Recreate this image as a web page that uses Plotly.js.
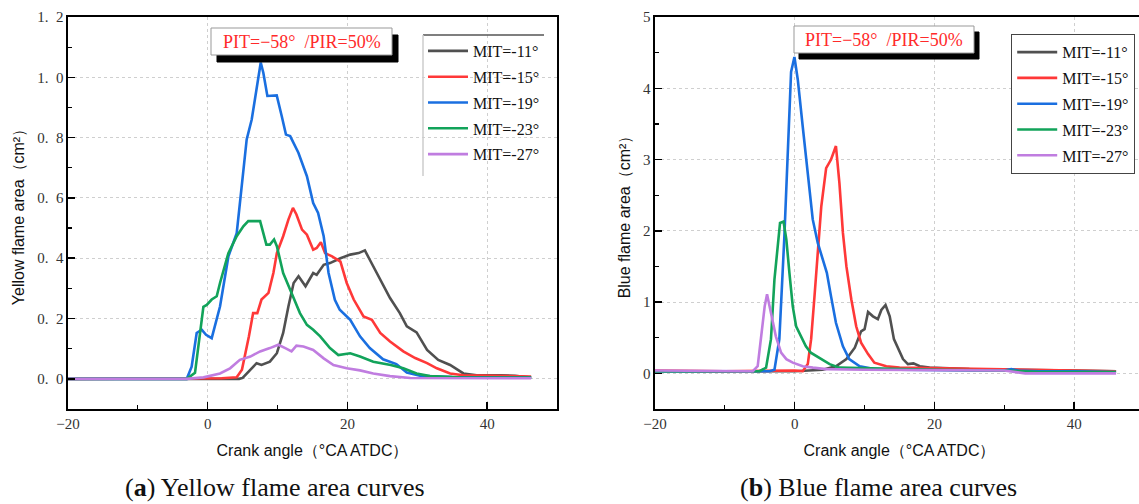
<!DOCTYPE html>
<html>
<head>
<meta charset="utf-8">
<script src="https://cdn.plot.ly/plotly-3.0.1.min.js"></script>
<style>
html,body{margin:0;padding:0;background:#fff;overflow:hidden;}
#chart{width:1145px;height:504px;}
</style>
</head>
<body>
<div id="chart"></div>
<script>
// ---------- data ----------
const seriesNames = ["MIT=-11°", "MIT=-15°", "MIT=-19°", "MIT=-23°", "MIT=-27°"];
const seriesColors = ["#505050", "#ff3838", "#1a6fe0", "#12a35a", "#c07de0"];

// (a) Yellow flame area (cm²) vs crank angle
const yelX_m11 = [-20, 4.5, 5.0, 6.1, 7.0, 7.7, 8.9, 9.9, 10.8, 11.55, 12.3, 13.0, 14.0, 15.1, 15.6, 16.6, 17.5, 19.0, 20.4, 21.6, 22.5, 23.2, 24.7, 26.1, 27.5, 28.5, 29.9, 31.4, 33.0, 34.7, 36.6, 38.5, 42, 44, 46.3];
const yelY_m11 = [0, 0, 0.003, 0.03, 0.052, 0.046, 0.057, 0.085, 0.152, 0.24, 0.318, 0.34, 0.307, 0.351, 0.345, 0.378, 0.384, 0.4, 0.412, 0.417, 0.426, 0.395, 0.329, 0.268, 0.218, 0.174, 0.154, 0.096, 0.063, 0.046, 0.018, 0.012, 0.012, 0.01, 0.004];
const yelX_m15 = [-20, -1, 2, 4.15, 4.9, 5.9, 6.5, 7.1, 7.7, 8.7, 9.4, 9.9, 10.8, 11.55, 12.2, 12.7, 13.5, 14.2, 15.1, 15.6, 16.2, 16.8, 17.8, 19.0, 19.9, 20.9, 22.3, 23.5, 24.7, 26.1, 28, 29.7, 31.4, 32.8, 34.7, 36.6, 40, 46.3];
const yelY_m15 = [0, 0, 0.002, 0.005, 0.03, 0.141, 0.218, 0.218, 0.263, 0.285, 0.351, 0.417, 0.473, 0.528, 0.567, 0.545, 0.495, 0.478, 0.428, 0.434, 0.453, 0.417, 0.406, 0.389, 0.318, 0.263, 0.207, 0.196, 0.152, 0.124, 0.091, 0.069, 0.052, 0.035, 0.018, 0.012, 0.01, 0.008];
const yelX_m19 = [-20, -3.0, -2.3, -1.58, -0.86, -0.24, 0.57, 1.76, 2.96, 4.15, 5.58, 6.3, 7.59, 7.96, 8.54, 9.16, 9.88, 10.6, 11.2, 11.8, 12.98, 14.2, 15.1, 15.8, 16.6, 17.3, 18.2, 18.9, 20.4, 21.8, 23.2, 25.1, 27, 28.5, 30.4, 35, 46.3];
const yelY_m19 = [0, 0, 0.04, 0.152, 0.163, 0.146, 0.135, 0.24, 0.406, 0.483, 0.794, 0.86, 1.049, 1.015, 0.938, 0.94, 0.94, 0.871, 0.81, 0.805, 0.75, 0.672, 0.583, 0.55, 0.473, 0.351, 0.262, 0.229, 0.196, 0.141, 0.102, 0.065, 0.049, 0.021, 0.01, 0.006, 0.004];
const yelX_m23 = [-20, -3.0, -1.82, -0.62, -0.14, 0.57, 1.29, 1.76, 2.96, 4.15, 5.1, 5.8, 7.5, 8.4, 8.9, 9.5, 9.9, 10.8, 12.0, 13.2, 14.2, 15.1, 16.1, 17.5, 18.7, 20.4, 21.8, 23.7, 26.2, 28, 29.9, 31.8, 36, 46.3];
const yelY_m23 = [0, 0, 0.02, 0.239, 0.245, 0.263, 0.274, 0.318, 0.417, 0.473, 0.506, 0.523, 0.523, 0.445, 0.445, 0.462, 0.44, 0.351, 0.285, 0.218, 0.179, 0.163, 0.141, 0.102, 0.079, 0.085, 0.074, 0.057, 0.046, 0.035, 0.018, 0.009, 0.005, 0.004];
const yelX_m27 = [-20, -3, -0.6, 1.76, 3.2, 4.6, 6.1, 7.5, 8.9, 10.1, 11.1, 12.0, 12.7, 13.7, 15.1, 16.6, 18.0, 19.9, 21.8, 23.7, 26.1, 29, 46.3];
const yelY_m27 = [0, 0, 0.005, 0.018, 0.035, 0.063, 0.074, 0.091, 0.102, 0.113, 0.102, 0.091, 0.11, 0.107, 0.096, 0.068, 0.046, 0.035, 0.028, 0.018, 0.009, 0.003, 0.002];

// (b) Blue flame area (cm²) vs crank angle
const bluX_m11 = [-20, -10, 0, 4.0, 5.9, 7.4, 8.6, 9.5, 10.0, 10.5, 11.2, 11.9, 12.4, 13.0, 13.6, 14.2, 14.8, 15.5, 16.2, 17.0, 17.9, 19.3, 25, 30, 35, 40, 46];
const bluY_m11 = [0.03, 0.03, 0.03, 0.05, 0.1, 0.2, 0.36, 0.59, 0.62, 0.86, 0.8, 0.76, 0.89, 0.96, 0.8, 0.48, 0.34, 0.2, 0.13, 0.14, 0.1, 0.08, 0.06, 0.05, 0.04, 0.04, 0.03];
const bluX_m15 = [-20, -10, 0, 1.15, 1.87, 2.35, 2.8, 3.3, 3.8, 4.5, 5.2, 5.9, 6.4, 6.9, 7.4, 8.1, 8.8, 9.5, 10.5, 11.4, 12.1, 13.1, 15, 20, 25, 30, 35, 40, 46];
const bluY_m15 = [0.04, 0.03, 0.04, 0.03, 0.13, 0.48, 1.04, 1.64, 2.34, 2.88, 3.0, 3.19, 2.67, 1.97, 1.5, 1.04, 0.66, 0.43, 0.27, 0.15, 0.13, 0.1, 0.08, 0.07, 0.06, 0.05, 0.05, 0.04, 0.03];
const bluX_m19 = [-20, -10, -3.6, -2.9, -2.2, -1.5, -0.86, -0.52, -0.04, 0.44, 1.15, 1.87, 2.58, 3.3, 4.0, 4.6, 5.2, 5.9, 6.9, 7.8, 9.3, 11.2, 15, 20, 25, 30, 31, 32, 35, 40, 46];
const bluY_m19 = [0.03, 0.03, 0.03, 0.05, 0.48, 1.88, 3.28, 4.23, 4.44, 4.12, 3.46, 2.81, 2.16, 1.83, 1.6, 1.41, 1.08, 0.71, 0.38, 0.2, 0.1, 0.065, 0.05, 0.04, 0.04, 0.04, 0.06, 0.04, 0.03, 0.03, 0.02];
const bluX_m23 = [-20, -10, -5.05, -4.1, -3.4, -2.9, -2.4, -2.1, -1.6, -1.2, -0.76, -0.28, 0.2, 0.9, 1.6, 2.3, 3.5, 5.0, 6.4, 10, 15, 20, 30, 35, 40, 46];
const bluY_m23 = [0.03, 0.03, 0.03, 0.08, 0.48, 1.32, 1.88, 2.11, 2.13, 1.88, 1.41, 0.94, 0.66, 0.52, 0.38, 0.29, 0.22, 0.13, 0.08, 0.07, 0.06, 0.05, 0.04, 0.02, 0.02, 0.02];
const bluX_m27 = [-20, -10, -6.0, -5.3, -4.8, -4.3, -3.96, -3.4, -2.7, -1.95, -1.2, -0.28, 1.15, 2.6, 4.5, 10, 20, 30, 33, 40, 46];
const bluY_m27 = [0.04, 0.03, 0.03, 0.1, 0.48, 0.94, 1.11, 0.85, 0.52, 0.29, 0.2, 0.15, 0.1, 0.08, 0.06, 0.05, 0.05, 0.04, 0.0, 0.0, 0.0];

// tick labels
const xTickVals = [-20, 0, 20, 40];
const xTickText = ["\u221220", "0", "20", "40"];
const yelTickVals = [0, 0.2, 0.4, 0.6, 0.8, 1.0, 1.2];
const yelTickText = ["0.\u20020", "0.\u20022", "0.\u20024", "0.\u20026", "0.\u20028", "1.\u20020", "1.\u20022"];
const bluTickVals = [0, 1, 2, 3, 4, 5];
const bluTickText = ["0", "1", "2", "3", "4", "5"];

const annotText = "PIT=\u221258°\u00a0\u00a0/PIR=50%";
const captionA = "(<b>a</b>) Yellow flame area curves";
const captionB = "(<b>b</b>) Blue flame area curves";
const xTitle = "Crank angle（°CA ATDC）";
const yTitleA = "Yellow flame area（cm²）";
const yTitleB = "Blue flame area（cm²）";

// ---------- build ----------
const yelX = [yelX_m11, yelX_m15, yelX_m19, yelX_m23, yelX_m27];
const yelY = [yelY_m11, yelY_m15, yelY_m19, yelY_m23, yelY_m27];
const bluX = [bluX_m11, bluX_m15, bluX_m19, bluX_m23, bluX_m27];
const bluY = [bluY_m11, bluY_m15, bluY_m19, bluY_m23, bluY_m27];

const traces = [];
for (let i = 0; i < 5; i++) {
  traces.push({x: yelX[i], y: yelY[i], type: 'scatter', mode: 'lines', name: seriesNames[i],
    line: {color: seriesColors[i], width: 2.6}, xaxis: 'x', yaxis: 'y',
    legend: 'legend', legendgroup: 'a' + i});
}
for (let i = 0; i < 5; i++) {
  traces.push({x: bluX[i], y: bluY[i], type: 'scatter', mode: 'lines', name: seriesNames[i],
    line: {color: seriesColors[i], width: 2.6}, xaxis: 'x2', yaxis: 'y2',
    legend: 'legend2', legendgroup: 'b' + i});
}

const W = 1145, H = 504, T = 17, B = 95;
const PH = H - T - B;
const px = v => v / W;
const py = v => (H - B - v) / PH;

const tickFont = {family: 'Liberation Serif, Times New Roman, serif', size: 15, color: '#333'};
const titleFont = {family: 'Liberation Sans, Arial, sans-serif', size: 16, color: '#111'};

function xAxis(domain, anchor) {
  return {domain: domain, anchor: anchor, range: [-20, 50], tickvals: xTickVals, ticktext: xTickText,
    ticks: 'inside', ticklen: 7, tickwidth: 1.5, tickcolor: '#000',
    minor: {dtick: 10, tick0: 0, ticks: 'inside', ticklen: 4, tickwidth: 1.2, tickcolor: '#000', showgrid: false},
    showline: true, linecolor: '#000', linewidth: 1.6, mirror: true,
    showgrid: true, gridcolor: '#cfcfcf', griddash: 'dot', gridwidth: 1, zeroline: false,
    tickfont: tickFont, title: {text: xTitle, font: titleFont, standoff: 14}};
}
function yAxis(anchor, range, tv, tt, minorD, title) {
  return {anchor: anchor, domain: [0, 1], range: range, tickvals: tv, ticktext: tt,
    ticks: 'inside', ticklen: 7, tickwidth: 1.5, tickcolor: '#000',
    minor: {dtick: minorD, tick0: 0, ticks: 'inside', ticklen: 4, tickwidth: 1.2, tickcolor: '#000', showgrid: false},
    showline: true, linecolor: '#000', linewidth: 1.6, mirror: true,
    showgrid: true, gridcolor: '#cfcfcf', griddash: 'dot', gridwidth: 1, zeroline: false,
    tickfont: tickFont, title: {text: title, font: titleFont, standoff: 8}};
}

const legendFont = {family: 'Liberation Serif, Times New Roman, serif', size: 16, color: '#111'};

// label box: black drop shadow then white box with grey border (pixel positions of the frame)
function labelBox(x0, x1, y0, y1, dx, dy) {
  return [
    {type: 'rect', xref: 'paper', yref: 'paper', x0: px(x0 + dx), x1: px(x1 + dx), y0: py(y0 + dy), y1: py(y1 + dy),
      fillcolor: 'rgb(0,0,0)', line: {color: 'rgb(0,0,0)', width: 1}},
    {type: 'rect', xref: 'paper', yref: 'paper', x0: px(x0), x1: px(x1), y0: py(y0), y1: py(y1),
      fillcolor: 'rgb(255,255,255)', line: {color: '#999', width: 1}}
  ];
}

const layout = {
  width: W, height: H,
  margin: {l: 0, r: 0, t: T, b: B},
  paper_bgcolor: '#fff', plot_bgcolor: '#fff',
  xaxis: xAxis([px(68), px(557)], 'y'),
  yaxis: yAxis('x', [-0.1, 1.2], yelTickVals, yelTickText, 0.1, yTitleA),
  xaxis2: xAxis([px(655), px(1144)], 'y2'),
  yaxis2: yAxis('x2', [-0.5, 5], bluTickVals, bluTickText, 0.5, yTitleB),
  legend: {x: px(423), y: py(34), xanchor: 'left', yanchor: 'top', bgcolor: 'rgba(255,255,255,0)',
    borderwidth: 0, font: legendFont, tracegroupgap: 2, itemwidth: 40},
  legend2: {x: px(1011), y: py(34), xanchor: 'left', yanchor: 'top', bgcolor: '#fff',
    bordercolor: '#444', borderwidth: 1.2, font: legendFont, tracegroupgap: 2, itemwidth: 40},
  shapes: [
    {type: 'line', xref: 'paper', yref: 'paper', x0: px(423), x1: px(544), y0: py(35), y1: py(35), line: {color: '#555', width: 1.5}},
    {type: 'line', xref: 'paper', yref: 'paper', x0: px(423), x1: px(423), y0: py(35), y1: py(176), line: {color: '#ccc', width: 1.5}}
  ].concat(labelBox(211, 392, 28, 55, 6, 7), labelBox(794, 974, 26, 53, 5, 6)),
  annotations: [
    {xref: 'paper', yref: 'paper', x: px(301.5), y: py(41.5), xanchor: 'center', yanchor: 'middle', text: annotText, showarrow: false,
      font: {family: 'Liberation Serif, Times New Roman, serif', size: 18, color: '#ff2a2a'}},
    {xref: 'paper', yref: 'paper', x: px(884), y: py(39.5), xanchor: 'center', yanchor: 'middle', text: annotText, showarrow: false,
      font: {family: 'Liberation Serif, Times New Roman, serif', size: 18, color: '#ff2a2a'}},
    {xref: 'paper', yref: 'paper', x: px(275), y: py(487), xanchor: 'center', yanchor: 'middle', text: captionA, showarrow: false,
      font: {family: 'Liberation Serif, Times New Roman, serif', size: 26, color: '#111'}},
    {xref: 'paper', yref: 'paper', x: px(878), y: py(487), xanchor: 'center', yanchor: 'middle', text: captionB, showarrow: false,
      font: {family: 'Liberation Serif, Times New Roman, serif', size: 26, color: '#111'}}
  ]
};

Plotly.newPlot('chart', traces, layout, {displayModeBar: false, staticPlot: true});
</script>
</body>
</html>
